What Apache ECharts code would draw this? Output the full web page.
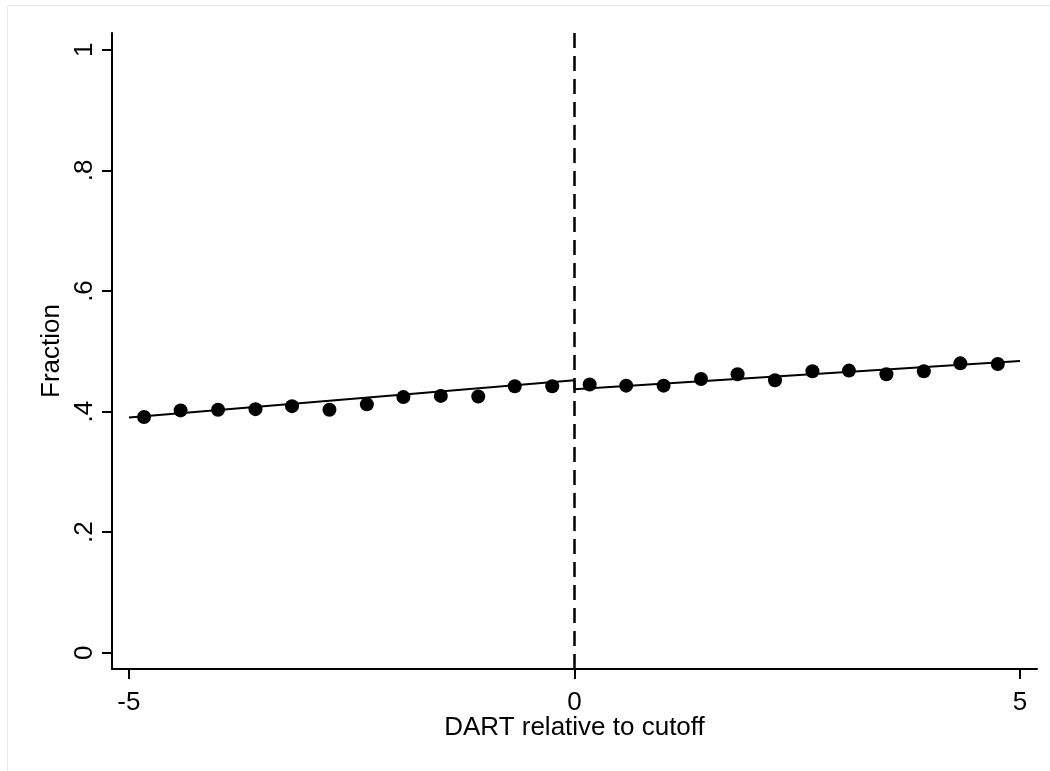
<!DOCTYPE html>
<html>
<head>
<meta charset="utf-8">
<script src="https://cdn.jsdelivr.net/npm/echarts@6/dist/echarts.min.js"></script>
<style>
  html, body { margin: 0; padding: 0; background: #fff; }
  #chart { width: 1050px; height: 771px; }
</style>
</head>
<body>
<div id="chart"></div>
<script>
// bin centres and bin means, left and right of the cutoff
const leftX = [-4.83, -4.42, -4.00, -3.58, -3.17, -2.75, -2.33, -1.92, -1.50, -1.08, -0.67, -0.25];
const leftY = [0.391, 0.402, 0.403, 0.404, 0.409, 0.403, 0.412, 0.424, 0.426, 0.425, 0.442, 0.442];
const rightX = [0.17, 0.58, 1.00, 1.42, 1.83, 2.25, 2.67, 3.08, 3.50, 3.92, 4.33, 4.75];
const rightY = [0.445, 0.443, 0.443, 0.454, 0.462, 0.452, 0.467, 0.468, 0.462, 0.467, 0.480, 0.479];

// linear fits, joined at the cutoff
const fitX = [-5, 0, 0, 5];
const fitY = [0.390, 0.452, 0.437, 0.484];

const cutoff = 0;
const xTicks = [-5, 0, 5];
const yTicks = [0, 0.2, 0.4, 0.6, 0.8, 1];

const zip = (xs, ys) => xs.map((x, i) => [x, ys[i]]);
const stataNum = v => String(v).replace(/^0\./, '.').replace(/^-0\./, '-.');

const font = 'Liberation Sans, Arial, sans-serif';
const chart = echarts.init(document.getElementById('chart'), null, { renderer: 'canvas' });

chart.setOption({
  animation: false,
  backgroundColor: '#fff',
  graphic: [{
    type: 'rect',
    shape: { x: 7.5, y: 5.5, width: 1100, height: 800 },
    style: { fill: 'none', stroke: '#e6eaea', lineWidth: 1 },
    silent: true
  }],
  grid: { left: 112, right: 13, top: 33, bottom: 102 },
  xAxis: {
    type: 'value',
    min: -5.19,
    max: 5.19,
    name: 'DART relative to cutoff',
    nameLocation: 'middle',
    nameGap: 46,
    nameMoveOverlap: false,
    nameTextStyle: { color: '#000', fontSize: 26, fontFamily: font },
    axisLine: { show: true, onZero: false, lineStyle: { color: '#000', width: 2 } },
    axisTick: { show: true, length: 10, customValues: xTicks, lineStyle: { color: '#000', width: 2 } },
    axisLabel: { customValues: xTicks, color: '#000', fontSize: 26, fontFamily: font, margin: 21, formatter: stataNum },
    splitLine: { show: false }
  },
  yAxis: {
    type: 'value',
    min: -0.027,
    max: 1.028,
    name: 'Fraction',
    nameLocation: 'middle',
    nameGap: 47,
    nameMoveOverlap: false,
    nameTextStyle: { color: '#000', fontSize: 26, fontFamily: font },
    axisLine: { show: true, onZero: false, lineStyle: { color: '#000', width: 2 } },
    axisTick: { show: true, length: 10, customValues: yTicks, lineStyle: { color: '#000', width: 2 } },
    axisLabel: { customValues: yTicks, rotate: 90, color: '#000', fontSize: 26, fontFamily: font, margin: 14, formatter: stataNum },
    splitLine: { show: false }
  },
  series: [
    {
      type: 'scatter',
      data: zip(leftX, leftY).concat(zip(rightX, rightY)),
      symbol: 'circle',
      symbolSize: 14,
      itemStyle: { color: '#000', opacity: 1 },
      silent: true,
      markLine: {
        silent: true,
        symbol: 'none',
        label: { show: false },
        lineStyle: { color: '#000', width: 2.5, type: [15, 8] },
        data: [{ xAxis: cutoff }]
      }
    },
    {
      type: 'line',
      data: zip(fitX, fitY),
      symbol: 'none',
      lineStyle: { color: '#000', width: 2 },
      silent: true
    }
  ]
});
</script>
</body>
</html>
